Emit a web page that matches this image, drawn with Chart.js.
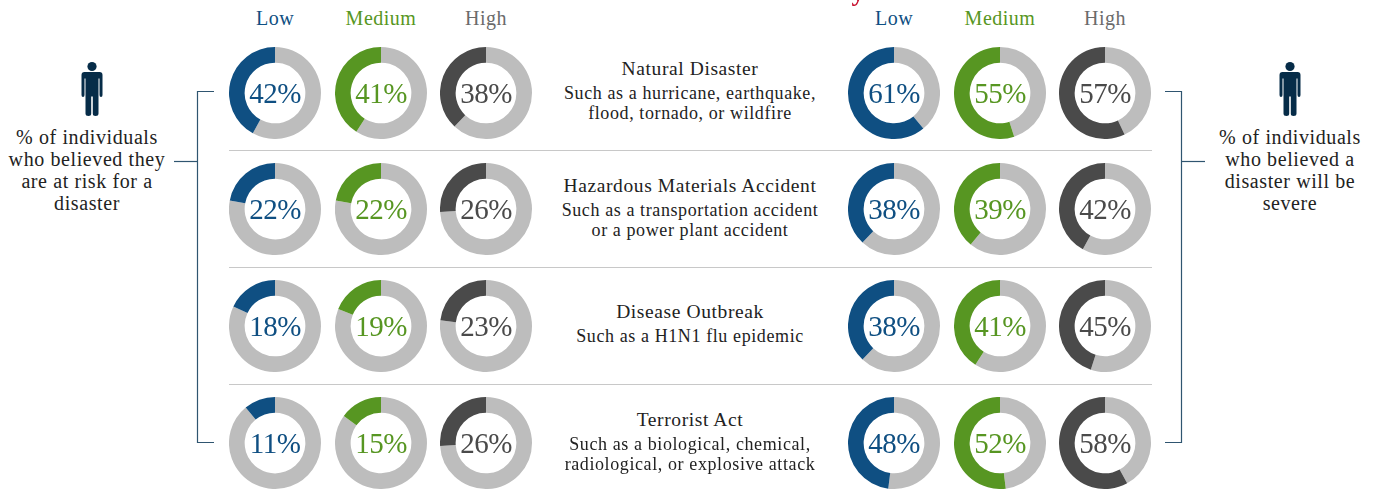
<!DOCTYPE html>
<html>
<head>
<meta charset="utf-8">
<script src="https://cdn.jsdelivr.net/npm/chart.js@4"></script>
<style>
  html, body { margin: 0; padding: 0; background: #fff; overflow: hidden; }
  #page { position: relative; width: 1373px; height: 489px; overflow: hidden;
    font-family: "Liberation Serif", serif; color: #222; }
  #page canvas { position: absolute; }
  .txt { position: absolute; text-align: center; white-space: nowrap; transform: translateX(-50%); }
  .level { font-size: 20px; line-height: 22px; top: 7px; letter-spacing: .5px; }
  .pct { font-size: 29px; line-height: 32px; letter-spacing: -.5px; }
  .name { font-size: 19.5px; line-height: 22px; letter-spacing: .6px; }
  .desc { font-size: 18px; line-height: 20px; letter-spacing: .6px; }
  .side { font-size: 20px; line-height: 22px; letter-spacing: .6px; }
  .cut { font-size: 26px; line-height: 26px; top: -20px; color: #c8102e; font-weight: bold; }
  .rule { position: absolute; left: 229px; width: 923px; height: 1px; background: #c8c8c8; }
  svg { position: absolute; left: 0; top: 0; }
</style>
</head>
<body>
<div id="page">
  <svg width="1373" height="489">
    <g fill="none" stroke="#2f5570" stroke-width="1.2">
      <path d="M214 91.5H197.5V442.5H214"/>
      <path d="M174 161.5H197"/>
      <path d="M1165 91.5H1181.5V442.5H1165"/>
      <path d="M1182 161.5H1205"/>
    </g>
    <defs>
      <g id="person" fill="#062c48">
        <circle cx="0" cy="-23" r="4.6"/>
        <path d="M-7.5 -17.5H7.5Q10.5 -17.5 10.5 -14.5V5.5Q10.5 7.5 9 7.5Q7.5 7.5 7.5 5.5V-11H6.5V24Q6.5 26.5 3.5 26.5Q0.8 26.5 0.8 24V7H-0.8V24Q-0.8 26.5 -3.5 26.5Q-6.5 26.5 -6.5 24V-11H-7.5V5.5Q-7.5 7.5 -9 7.5Q-10.5 7.5 -10.5 5.5V-14.5Q-10.5 -17.5 -7.5 -17.5Z"/>
      </g>
    </defs>
    <use href="#person" x="92" y="89.5"/>
    <use href="#person" x="1290" y="89.5"/>
  </svg>
</div>
<script>
// one row per hazard, one value per risk level
const hazards = ["Natural Disaster", "Hazardous Materials Accident", "Disease Outbreak", "Terrorist Act"];
const examples = [
  ["Such as a hurricane, earthquake,", "flood, tornado, or wildfire"],
  ["Such as a transportation accident", "or a power plant accident"],
  ["Such as a H1N1 flu epidemic"],
  ["Such as a biological, chemical,", "radiological, or explosive attack"],
];
const levels = ["Low", "Medium", "High"];
const levelColors = ["#0f4f82", "#579622", "#4a4a4a"];
const riskValues = [
  [42, 41, 38],
  [22, 22, 26],
  [18, 19, 23],
  [11, 15, 26],
];
const severityValues = [
  [61, 55, 57],
  [38, 39, 42],
  [38, 41, 45],
  [48, 52, 58],
];

const restColor = "#bdbdbd";
const colLeft = [275, 381, 486];
const colRight = [894, 1000, 1105];
const rowY = [93, 209, 326, 443];
const ringSize = 92;
const page = document.getElementById("page");

const addText = (cls, text, x, y, color) => {
  const el = document.createElement("div");
  el.className = "txt " + cls;
  el.textContent = text;
  el.style.left = x + "px";
  if (y !== null) el.style.top = y + "px";
  if (color) el.style.color = color;
  page.appendChild(el);
  return el;
};

const addRing = (value, color, cx, cy) => {
  const canvas = document.createElement("canvas");
  canvas.style.left = cx - ringSize / 2 + "px";
  canvas.style.top = cy - ringSize / 2 + "px";
  canvas.style.width = ringSize + "px";
  canvas.style.height = ringSize + "px";
  canvas.width = ringSize;
  canvas.height = ringSize;
  page.appendChild(canvas);
  new Chart(canvas, {
    type: "doughnut",
    data: {
      // anticlockwise from 12 o'clock: the rest comes first
      datasets: [{
        data: [100 - value, value],
        backgroundColor: [restColor, color],
        borderWidth: 0,
      }],
    },
    options: {
      responsive: false,
      animation: false,
      cutout: "66%",
      layout: { padding: 0 },
      plugins: { legend: { display: false }, tooltip: { enabled: false } },
    },
  });
  addText("pct", value + "%", cx, cy - 16, color);
};

[colLeft, colRight].forEach((cols, side) => {
  const table = side === 0 ? riskValues : severityValues;
  cols.forEach((x, c) => {
    addText("level", levels[c], x, null, c === 2 ? "#6b6b6b" : levelColors[c]);
    rowY.forEach((y, r) => addRing(table[r][c], levelColors[c], x, y));
  });
});

const nameY = [57.5, 175, 301, 409];
const descY = [83, 200, 326, 434];
hazards.forEach((name, r) => {
  addText("name", name, 690, nameY[r]);
  examples[r].forEach((line, i) => addText("desc", line, 690, descY[r] + i * 20));
});

[150, 267, 384].forEach(y => {
  const rule = document.createElement("div");
  rule.className = "rule";
  rule.style.top = y + "px";
  page.appendChild(rule);
});

["% of individuals", "who believed they", "are at risk for a", "disaster"].forEach((line, i) =>
  addText("side", line, 87, 126 + i * 22));
["% of individuals", "who believed a", "disaster will be", "severe"].forEach((line, i) =>
  addText("side", line, 1290, 126 + i * 22));

// tail of the cut-off heading at the top edge
addText("cut", "y", 858, null);
</script>
</body>
</html>
